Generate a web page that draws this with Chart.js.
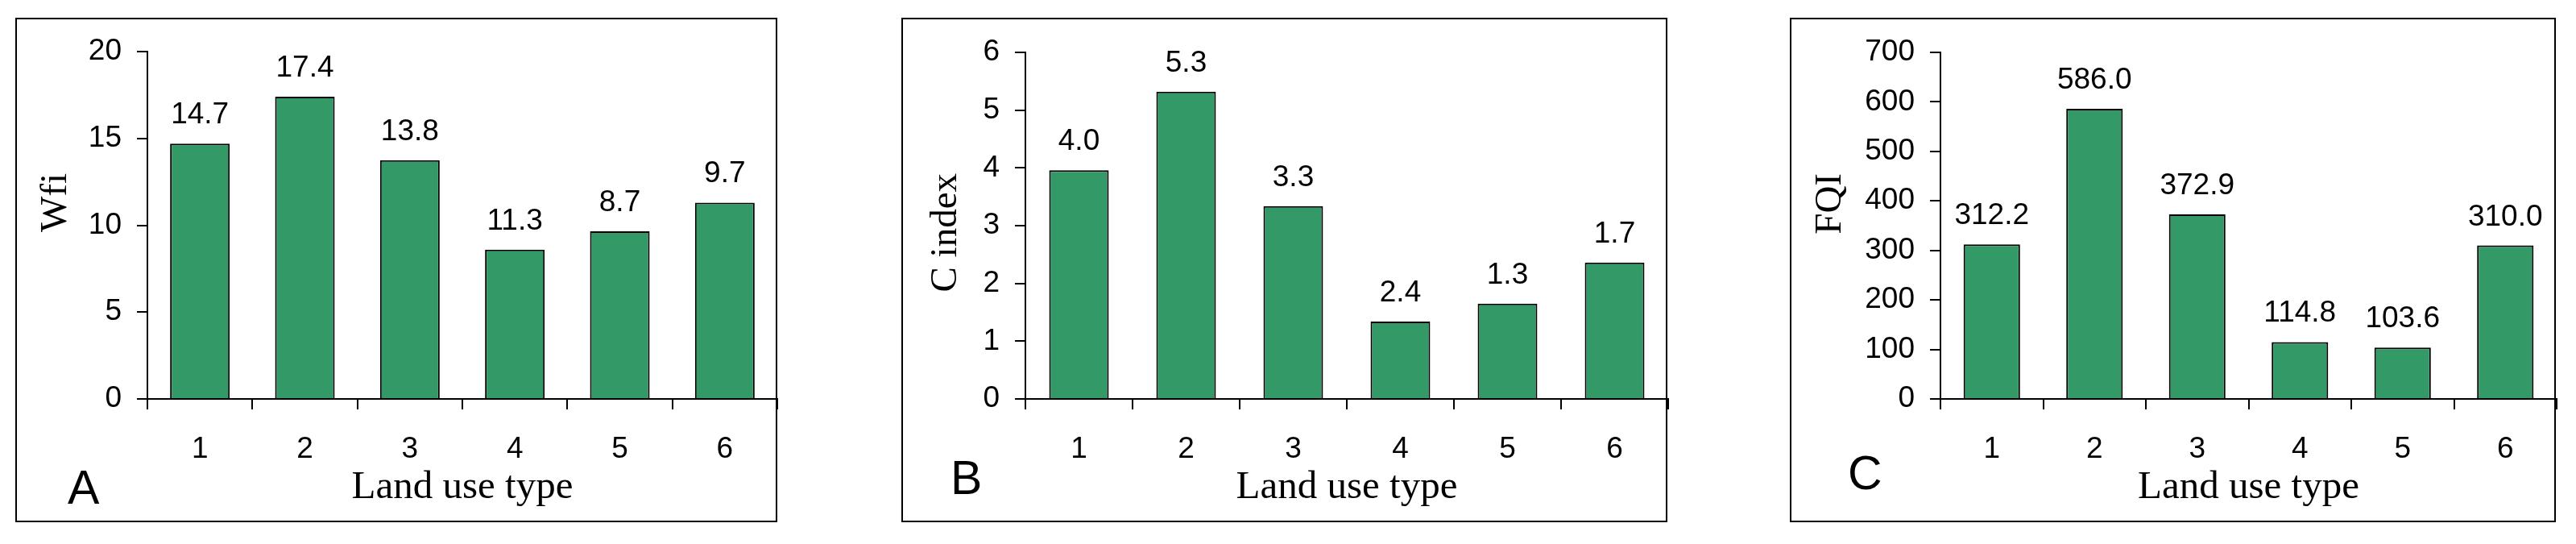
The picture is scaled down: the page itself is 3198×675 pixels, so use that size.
<!DOCTYPE html>
<html>
<head>
<meta charset="utf-8">
<script src="https://cdn.jsdelivr.net/npm/chart.js@4.4.1/dist/chart.umd.min.js"></script>
<style>
html,body{margin:0;padding:0;background:#fff;}
body{width:3198px;height:675px;position:relative;overflow:hidden;}
canvas{position:absolute;top:0;}
</style>
</head>
<body>
<canvas id="cA" width="1000" height="675" style="left:0px;width:1000px;height:675px"></canvas>
<canvas id="cB" width="1040" height="675" style="left:1060px;width:1040px;height:675px"></canvas>
<canvas id="cC" width="1058" height="675" style="left:2140px;width:1058px;height:675px"></canvas>
<script>
// ---- data ----
const categories = ['1', '2', '3', '4', '5', '6'];

const wfiValues = [14.7, 17.4, 13.75, 8.6, 9.65, 11.3];
const wfiLabels = ['14.7', '17.4', '13.8', '11.3', '8.7', '9.7'];
const wfiTicks = [0, 5, 10, 15, 20];

const cIndexValues = [3.96, 5.32, 3.34, 1.34, 1.65, 2.36];
const cIndexLabels = ['4.0', '5.3', '3.3', '2.4', '1.3', '1.7'];
const cIndexTicks = [0, 1, 2, 3, 4, 5, 6];

const fqiValues = [312.2, 586.0, 372.9, 114.8, 103.6, 310.0];
const fqiLabels = ['312.2', '586.0', '372.9', '114.8', '103.6', '310.0'];
const fqiTicks = [0, 100, 200, 300, 400, 500, 600, 700];

const panelLetters = ['A', 'B', 'C'];
const yTitles = ['Wfi', 'C index', 'FQI'];
const xTitle = 'Land use type';

// ---- styling / layout ----
const GREEN = '#339966';
const SANS = '"Liberation Sans", Arial, sans-serif';
const SERIF = '"Liberation Serif", "Times New Roman", serif';

const panels = [
  {id:'cA', w:1000, values:wfiValues, labels:wfiLabels, ticks:wfiTicks, letter:panelLetters[0], ytitle:yTitles[0],
   plotL:183, plotR:965, plotT:64, frame:[20,23,964,647], letterPos:[84,625], yTitleX:82, barPct:0.568},
  {id:'cB', w:1040, values:cIndexValues, labels:cIndexLabels, ticks:cIndexTicks, letter:panelLetters[1], ytitle:yTitles[1],
   plotL:213, plotR:1011, plotT:65, frame:[60,23,1009,647], letterPos:[120,613], yTitleX:127, barPct:0.556},
  {id:'cC', w:1058, values:fqiValues, labels:fqiLabels, ticks:fqiTicks, letter:panelLetters[2], ytitle:yTitles[2],
   plotL:269, plotR:1034, plotT:65, frame:[83,23,1032,647], letterPos:[154,607], yTitleX:145, barPct:0.55}
];
const PLOT_B = 495;
const Y_AXIS_W = 100;
const X_AXIS_H = 100;

const decorPlugin = {
  id: 'decor',
  afterDraw(chart) {
    const p = chart.options.plugins.decor;
    const ctx = chart.ctx;
    ctx.save();
    // frame
    ctx.strokeStyle = '#000';
    ctx.lineWidth = 2;
    const f = p.frame;
    ctx.strokeRect(f[0], f[1], f[2]-f[0], f[3]-f[1]);
    // value labels
    ctx.fillStyle = '#000';
    ctx.font = '37px ' + SANS;
    ctx.textAlign = 'center';
    ctx.textBaseline = 'alphabetic';
    const meta = chart.getDatasetMeta(0);
    meta.data.forEach((bar, i) => {
      ctx.fillText(p.labels[i], bar.x, bar.y - 25);
    });
    // panel letter
    ctx.font = '59px ' + SANS;
    ctx.textAlign = 'left';
    ctx.fillText(p.letter, p.letterPos[0], p.letterPos[1]);
    // x title
    ctx.font = '49px ' + SERIF;
    ctx.textAlign = 'center';
    const ca = chart.chartArea;
    ctx.fillText(xTitle, (ca.left + ca.right) / 2, 618);
    // y title
    ctx.translate(p.yTitleX, 215);
    ctx.rotate(-Math.PI / 2);
    ctx.font = '47px ' + SERIF;
    ctx.textAlign = 'right';
    ctx.fillText(p.ytitle, 0, 0);
    ctx.restore();
  }
};

panels.forEach(pn => {
  const ticks = pn.ticks;
  new Chart(document.getElementById(pn.id), {
    type: 'bar',
    data: {
      labels: categories,
      datasets: [{
        data: pn.values,
        backgroundColor: GREEN,
        borderColor: '#000',
        borderWidth: 2,
        borderSkipped: 'start',
        barPercentage: pn.barPct,
        categoryPercentage: 1.0
      }]
    },
    options: {
      responsive: false,
      devicePixelRatio: 1,
      animation: false,
      events: [],
      layout: {
        padding: {
          left: pn.plotL - Y_AXIS_W,
          right: pn.w - pn.plotR,
          top: pn.plotT,
          bottom: 675 - PLOT_B - X_AXIS_H
        }
      },
      plugins: {
        legend: {display: false},
        tooltip: {enabled: false},
        decor: {frame: pn.frame, labels: pn.labels, letter: pn.letter, letterPos: pn.letterPos,
                ytitle: pn.ytitle, yTitleX: pn.yTitleX}
      },
      scales: {
        x: {
          offset: true,
          grid: {offset: true, drawOnChartArea: false, drawTicks: true, tickLength: 13, color: '#000', tickColor: '#000', tickWidth: 2, lineWidth: 2},
          border: {display: true, color: '#000', width: 2},
          ticks: {color: '#000', font: {family: SANS, size: 37}, padding: 28, maxRotation: 0},
          afterFit: s => { s.height = X_AXIS_H; }
        },
        y: {
          min: ticks[0],
          max: ticks[ticks.length - 1],
          afterBuildTicks: s => { s.ticks = ticks.map(v => ({value: v})); },
          grid: {drawOnChartArea: false, drawTicks: true, tickLength: 13, color: '#000', tickColor: '#000', tickWidth: 2, lineWidth: 2},
          border: {display: true, color: '#000', width: 2},
          ticks: {color: '#000', font: {family: SANS, size: 37}, padding: 19},
          afterFit: s => { s.width = Y_AXIS_W; }
        }
      }
    },
    plugins: [decorPlugin]
  });
});
</script>
</body>
</html>
